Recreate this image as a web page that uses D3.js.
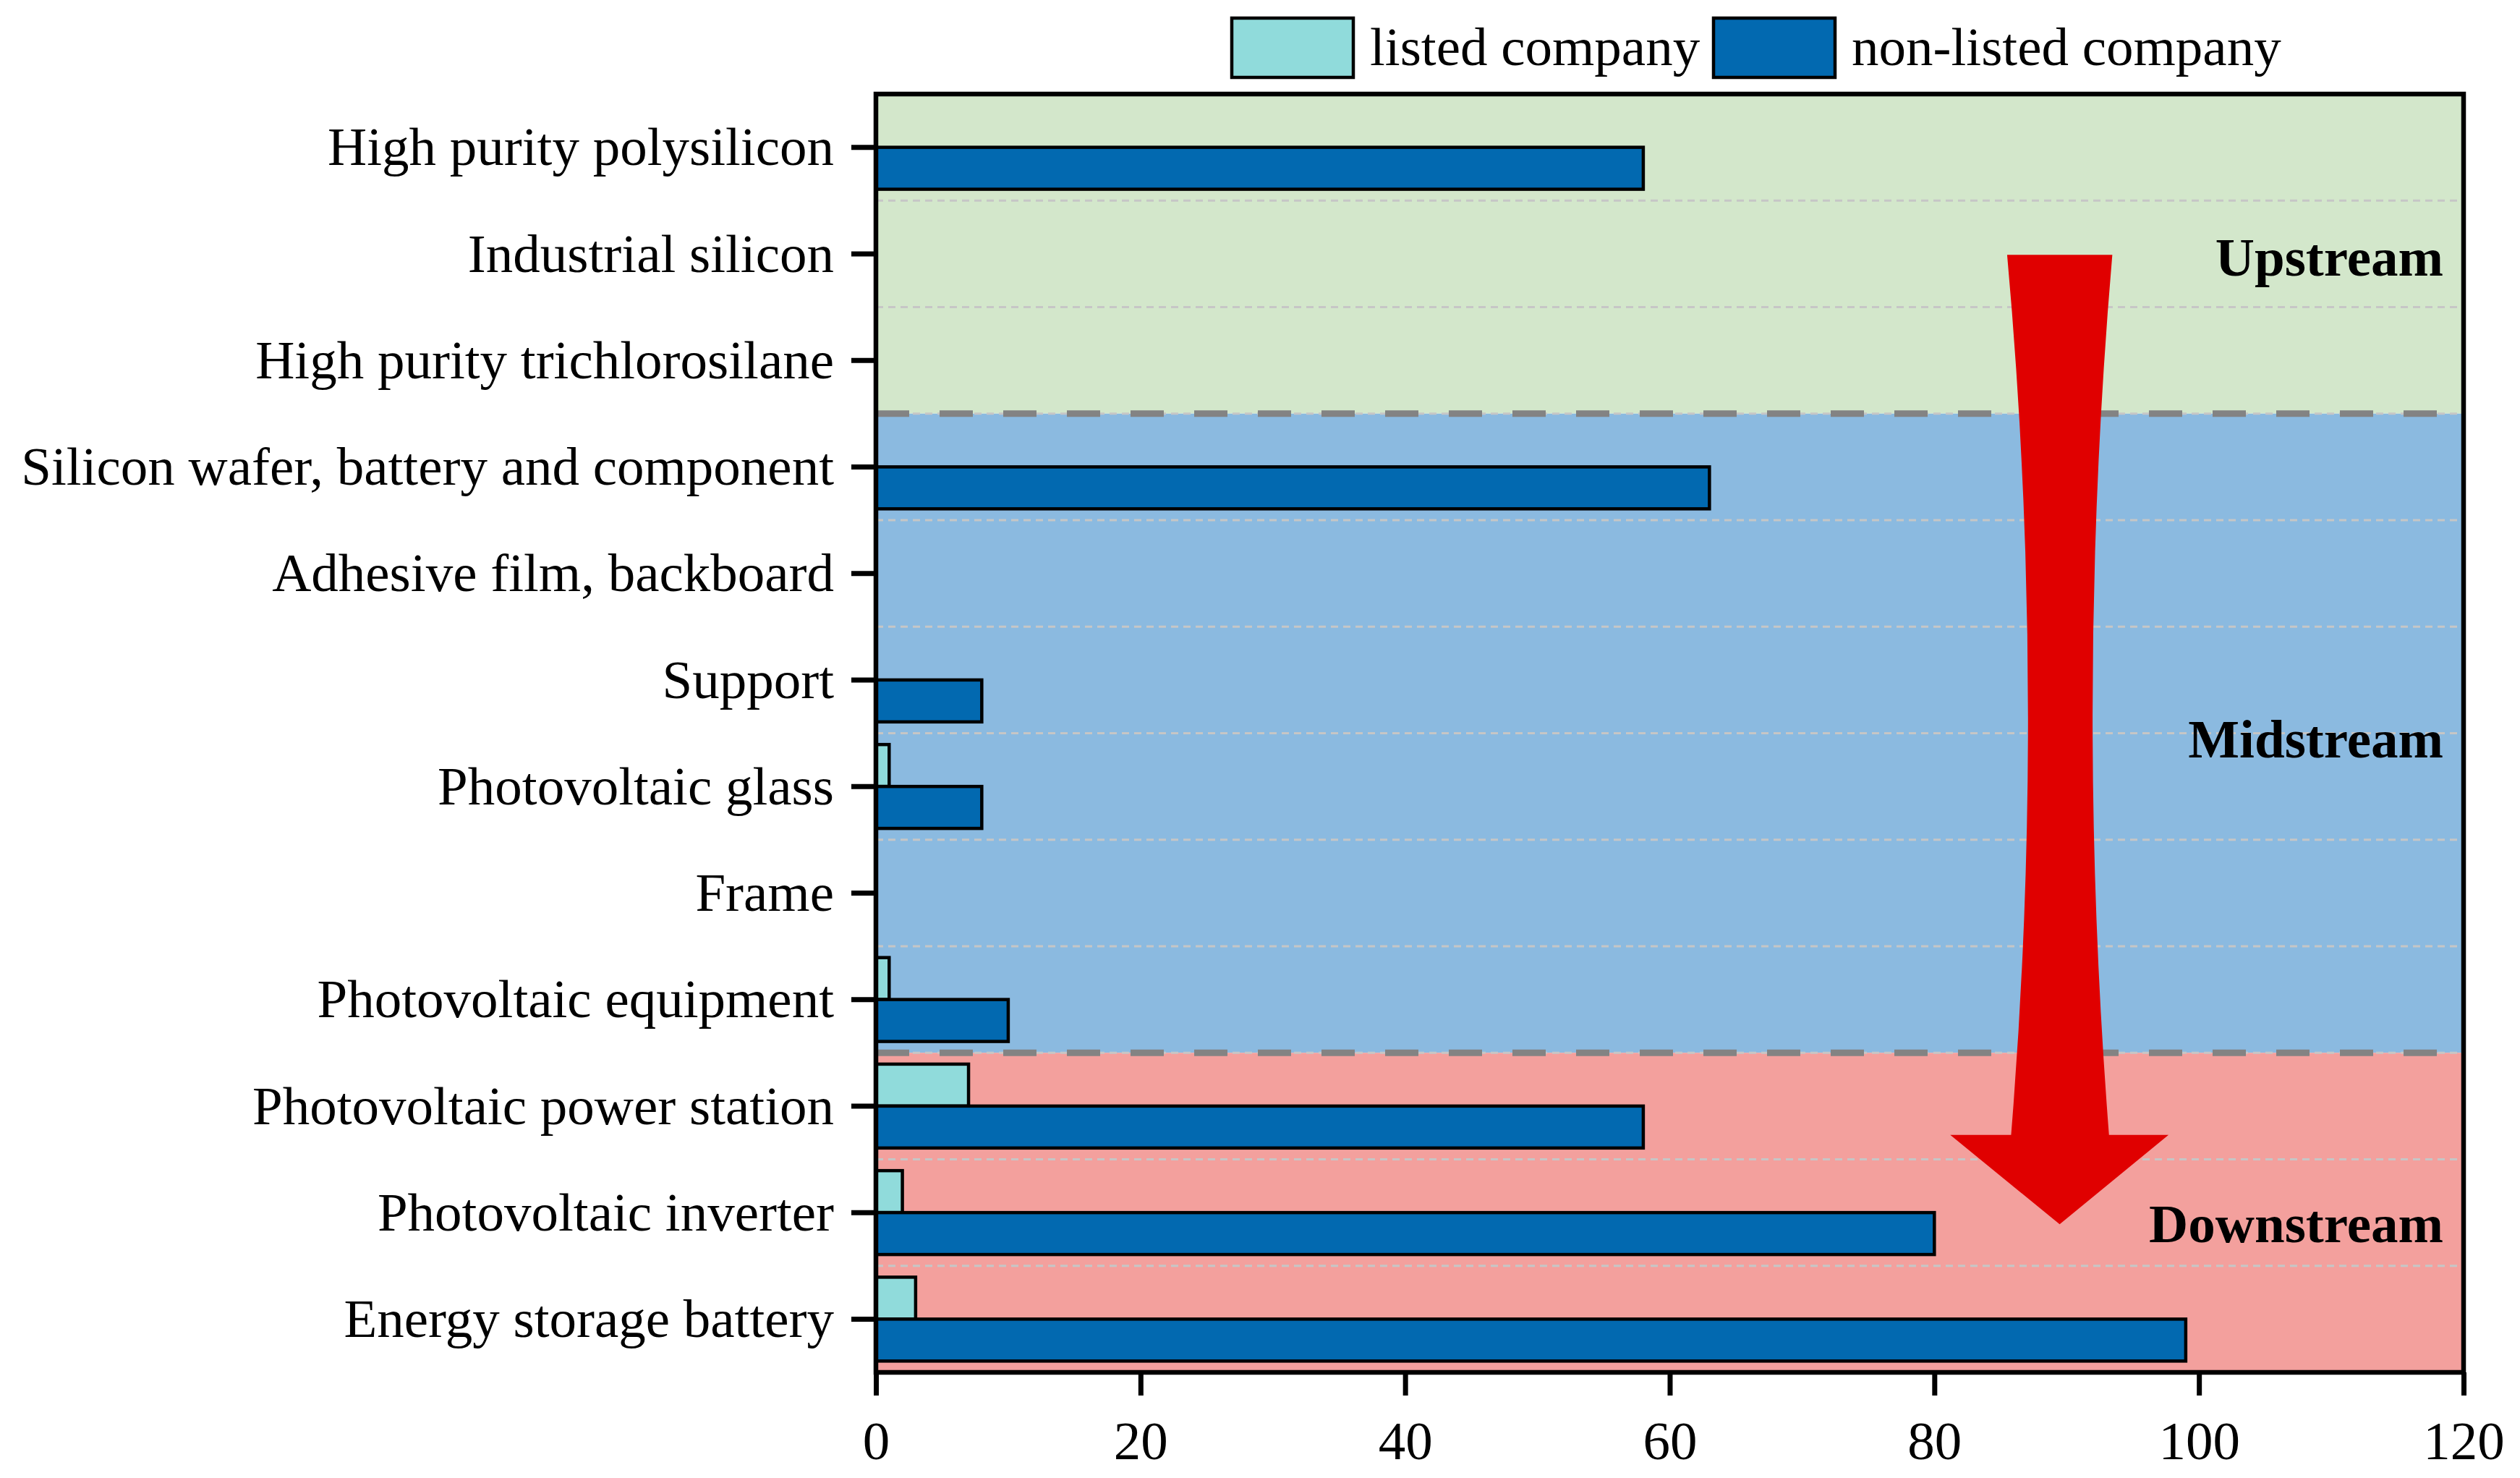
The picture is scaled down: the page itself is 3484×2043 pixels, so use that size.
<!DOCTYPE html>
<html lang="en">
<head>
<meta charset="UTF-8">
<style>
  body { margin: 0; background: #fff; }
  svg { display: block; font-family: "Liberation Serif", "Times New Roman", serif; }
  .axis text { font-size: 75px; fill: #000; font-family: "Liberation Serif", serif; }
  .axis line { stroke: #000; stroke-width: 7; }
  .axis path { display: none; }
  .region-label { font-size: 75px; font-weight: bold; text-anchor: end; }
  .legend text { font-size: 75px; }
</style>
</head>
<body>
<script src="https://d3js.org/d3.v7.min.js"></script>
<svg></svg>
<script>
// data
const categories = [
  "High purity polysilicon", "Industrial silicon", "High purity trichlorosilane",
  "Silicon wafer, battery and component", "Adhesive film, backboard", "Support",
  "Photovoltaic glass", "Frame", "Photovoltaic equipment",
  "Photovoltaic power station", "Photovoltaic inverter", "Energy storage battery"
];
const listed    = [0, 0, 0, 0, 0, 0, 1, 0, 1, 7, 2, 3];
const nonListed = [58, 0, 0, 63, 0, 8, 8, 0, 10, 58, 80, 99];
const seriesNames = ["listed company", "non-listed company"];
const seriesColors = ["#90dbdb", "#0269b0"];
const xTicks = [0, 20, 40, 60, 80, 100, 120];

const regionNames  = ["Upstream", "Midstream", "Downstream"];
const regionFirst  = [0, 3, 9];     // first category index of each region
const regionLast   = [2, 8, 11];    // last category index
const regionLabelAt = [1.53, 6.05, 10.6]; // label centre, in category units
const regionColors = ["#d3e7cb", "#8bbae0", "#f3a09d"];

// arrow outline, x in data units, y in category-index units (0 = top of plot)
const arrowTop = 1.51, arrowBase = 9.77, arrowTip = 10.61;

const W = 3484, H = 2043;
const m = {left: 1211, right: 3406, top: 130, bottom: 1897};

const svg = d3.select("svg").attr("width", W).attr("height", H);

const x = d3.scaleLinear().domain([0, 120]).range([m.left, m.right]);
const y = d3.scaleBand().domain(categories).range([m.top, m.bottom]).padding(0);
const yPos = d3.scaleLinear().domain([0, categories.length]).range([m.top, m.bottom]);
const ySub = d3.scaleBand().domain(seriesNames).range([0, y.bandwidth()])
               .paddingInner(0).paddingOuter(0.27);

// region backgrounds
svg.append("g").selectAll("rect")
   .data(regionNames)
   .join("rect")
   .attr("x", x(0))
   .attr("width", x(120) - x(0))
   .attr("y", (d, i) => y(categories[regionFirst[i]]))
   .attr("height", (d, i) => y(categories[regionLast[i]]) + y.bandwidth() - y(categories[regionFirst[i]]))
   .attr("fill", (d, i) => regionColors[i]);

// light dashed separators between categories
const bounds = d3.range(1, categories.length);
svg.append("g").selectAll("line")
   .data(bounds)
   .join("line")
   .attr("x1", x(0)).attr("x2", x(120))
   .attr("y1", d => yPos(d)).attr("y2", d => yPos(d))
   .attr("stroke", "#c6c6c6")
   .attr("stroke-width", 3)
   .attr("stroke-dasharray", "10,7");

// thick dashed lines between regions
svg.append("g").selectAll("line")
   .data(regionFirst.slice(1))
   .join("line")
   .attr("x1", x(0)).attr("x2", x(120))
   .attr("y1", d => yPos(d)).attr("y2", d => yPos(d))
   .attr("stroke", "#838383")
   .attr("stroke-width", 9)
   .attr("stroke-dasharray", "46,42");

// bars
const barData = [];
categories.forEach((c, i) => {
  if (listed[i] > 0) barData.push({cat: c, s: seriesNames[0], v: listed[i], col: seriesColors[0]});
  if (nonListed[i] > 0) barData.push({cat: c, s: seriesNames[1], v: nonListed[i], col: seriesColors[1]});
});
svg.append("g").selectAll("rect")
   .data(barData)
   .join("rect")
   .attr("x", x(0))
   .attr("y", d => y(d.cat) + ySub(d.s))
   .attr("width", d => x(d.v) - x(0))
   .attr("height", ySub.bandwidth())
   .attr("fill", d => d.col)
   .attr("stroke", "#000")
   .attr("stroke-width", 4.5);

// red arrow
const p = d3.path();
p.moveTo(x(85.5), yPos(arrowTop));
p.lineTo(x(93.45), yPos(arrowTop));
p.quadraticCurveTo(x(90.6), yPos(5.64), x(93.2), yPos(arrowBase));
p.lineTo(x(97.7), yPos(arrowBase));
p.lineTo(x(89.47), yPos(arrowTip));
p.lineTo(x(81.2), yPos(arrowBase));
p.lineTo(x(85.8), yPos(arrowBase));
p.quadraticCurveTo(x(88.5), yPos(5.64), x(85.5), yPos(arrowTop));
p.closePath();
svg.append("path").attr("d", p.toString()).attr("fill", "#e00000");

// region labels
svg.append("g").selectAll("text")
   .data(regionNames)
   .join("text")
   .attr("class", "region-label")
   .attr("x", x(120) - 28)
   .attr("y", (d, i) => yPos(regionLabelAt[i]) + 26)
   .text(d => d);

// axes
svg.append("g")
   .attr("class", "axis")
   .attr("transform", `translate(${m.left},0)`)
   .call(d3.axisLeft(y).tickSize(34).tickPadding(24))
   .selectAll("text").attr("dy", "0.33em");

svg.append("g")
   .attr("class", "axis")
   .attr("transform", `translate(0,${m.bottom})`)
   .call(d3.axisBottom(x).tickValues(xTicks).tickFormat(d3.format("d")).tickSize(32).tickPadding(35));

// frame
svg.append("rect")
   .attr("x", m.left).attr("y", m.top)
   .attr("width", m.right - m.left).attr("height", m.bottom - m.top)
   .attr("fill", "none")
   .attr("stroke", "#000")
   .attr("stroke-width", 6.5);

// legend
const legend = svg.append("g").attr("class", "legend");
const legendBoxX = [1703, 2369];
seriesNames.forEach((s, i) => {
  legend.append("rect")
        .attr("x", legendBoxX[i]).attr("y", 25)
        .attr("width", 168).attr("height", 82)
        .attr("fill", seriesColors[i])
        .attr("stroke", "#000")
        .attr("stroke-width", 4.5);
  legend.append("text")
        .attr("x", legendBoxX[i] + 191)
        .attr("y", 90)
        .text(s);
});
</script>
</body>
</html>
